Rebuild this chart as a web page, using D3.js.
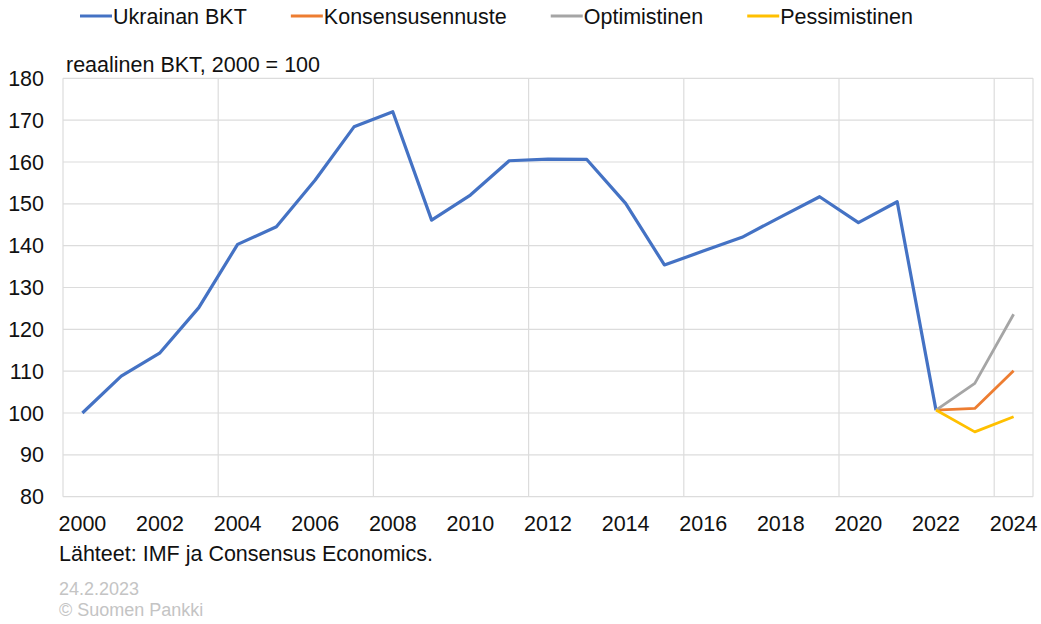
<!DOCTYPE html>
<html>
<head>
<meta charset="utf-8">
<script src="https://cdn.jsdelivr.net/npm/d3@7"></script>
<style>
  body { margin: 0; background: #fff; }
  svg text { font-family: 'Liberation Sans', Arial, Helvetica, sans-serif; }
</style>
</head>
<body>
<div id="chart"></div>
<script>
// categories on the x axis (one per year)
const years = ['2000', '2001', '2002', '2003', '2004', '2005', '2006', '2007', '2008', '2009',
  '2010', '2011', '2012', '2013', '2014', '2015', '2016', '2017', '2018', '2019',
  '2020', '2021', '2022', '2023', '2024'];
const xTickLabels = ['2000', '2002', '2004', '2006', '2008', '2010', '2012', '2014', '2016', '2018', '2020', '2022', '2024'];
const gridYears = ['2000', '2004', '2008', '2012', '2016', '2020', '2024'];
const yTicks = [80, 90, 100, 110, 120, 130, 140, 150, 160, 170, 180];

// Ukrainan BKT, 2000-2022
const gdpYears = years.slice(0, 23);
const gdpValues = [100, 108.8, 114.4, 125.2, 140.3, 144.5, 155.7, 168.4, 172.0, 146.1,
  152.1, 160.3, 160.7, 160.6, 150.1, 135.4, 138.7, 142.0, 146.9, 151.7,
  145.5, 150.5, 100.7];

// scenarios 2022-2024
const forecastYears = ['2022', '2023', '2024'];
const consensusValues = [100.7, 101.1, 110.1];
const optimisticValues = [100.7, 107.1, 123.6];
const pessimisticValues = [100.7, 95.5, 99.1];

const seriesNames = ['Ukrainan BKT', 'Konsensusennuste', 'Optimistinen', 'Pessimistinen'];
const seriesColors = ['#4472C4', '#ED7D31', '#A5A5A5', '#FFC000'];

const width = 1041;
const height = 624;
const plot = { left: 63, right: 1033, top: 78.3, bottom: 496.7 };
const fontSize = 21.5;
const textColor = '#111';

const svg = d3.select('#chart')
  .append('svg')
  .attr('width', width)
  .attr('height', height);

const x = d3.scaleBand()
  .domain(years)
  .range([plot.left, plot.right])
  .padding(0);

const y = d3.scaleLinear()
  .domain([80, 180])
  .range([plot.bottom, plot.top]);

const xc = d => x(d) + x.bandwidth() / 2;

// horizontal gridlines
svg.append('g')
  .selectAll('line')
  .data(yTicks)
  .enter()
  .append('line')
  .attr('x1', plot.left)
  .attr('x2', plot.right)
  .attr('y1', d => y(d))
  .attr('y2', d => y(d))
  .attr('stroke', '#dcdcdc')
  .attr('stroke-width', 1.2);

// vertical gridlines sit between categories, every fourth year
svg.append('g')
  .selectAll('line')
  .data(gridYears)
  .enter()
  .append('line')
  .attr('x1', d => x(d))
  .attr('x2', d => x(d))
  .attr('y1', plot.top)
  .attr('y2', plot.bottom)
  .attr('stroke', '#dcdcdc')
  .attr('stroke-width', 1.2);

svg.append('line')
  .attr('x1', plot.right)
  .attr('x2', plot.right)
  .attr('y1', plot.top)
  .attr('y2', plot.bottom)
  .attr('stroke', '#dcdcdc')
  .attr('stroke-width', 1.2);

// y tick labels
svg.append('g')
  .selectAll('text')
  .data(yTicks)
  .enter()
  .append('text')
  .attr('x', 44)
  .attr('y', d => y(d))
  .attr('dy', '0.35em')
  .attr('text-anchor', 'end')
  .style('font-size', fontSize + 'px')
  .style('fill', textColor)
  .text(d => d);

// x tick labels
svg.append('g')
  .selectAll('text')
  .data(xTickLabels)
  .enter()
  .append('text')
  .attr('x', d => xc(d))
  .attr('y', 531)
  .attr('text-anchor', 'middle')
  .style('font-size', fontSize + 'px')
  .style('fill', textColor)
  .text(d => d);

// lines
const line = d3.line()
  .x(d => xc(d.year))
  .y(d => y(d.value));

const seriesData = [
  gdpYears.map((yr, i) => ({ year: yr, value: gdpValues[i] })),
  forecastYears.map((yr, i) => ({ year: yr, value: consensusValues[i] })),
  forecastYears.map((yr, i) => ({ year: yr, value: optimisticValues[i] })),
  forecastYears.map((yr, i) => ({ year: yr, value: pessimisticValues[i] }))
];

seriesData.forEach((data, i) => {
  svg.append('path')
    .datum(data)
    .attr('d', line)
    .attr('fill', 'none')
    .attr('stroke', seriesColors[i])
    .attr('stroke-width', i === 0 ? 3.2 : 2.8)
    .attr('stroke-linejoin', 'round');
});

// legend across the top
const legend = svg.append('g');
let lx = 80;
seriesNames.forEach((name, i) => {
  legend.append('line')
    .attr('x1', lx)
    .attr('x2', lx + 32)
    .attr('y1', 16)
    .attr('y2', 16)
    .attr('stroke', seriesColors[i])
    .attr('stroke-width', 3);
  const t = legend.append('text')
    .attr('x', lx + 33)
    .attr('y', 23.5)
    .style('font-size', fontSize + 'px')
    .style('fill', textColor)
    .text(name);
  lx += 33 + t.node().getComputedTextLength() + 44;
});

// axis title and notes
svg.append('text')
  .attr('x', 66)
  .attr('y', 72)
  .style('font-size', fontSize + 'px')
  .style('fill', textColor)
  .text('reaalinen BKT, 2000 = 100');

svg.append('text')
  .attr('x', 59)
  .attr('y', 561)
  .style('font-size', fontSize + 'px')
  .style('fill', textColor)
  .text('Lähteet: IMF ja Consensus Economics.');

svg.append('text')
  .attr('x', 59)
  .attr('y', 595)
  .style('font-size', '18px')
  .style('fill', '#c4c4c4')
  .text('24.2.2023');

svg.append('text')
  .attr('x', 59)
  .attr('y', 616)
  .style('font-size', '18px')
  .style('fill', '#c4c4c4')
  .text('© Suomen Pankki');
</script>
</body>
</html>
